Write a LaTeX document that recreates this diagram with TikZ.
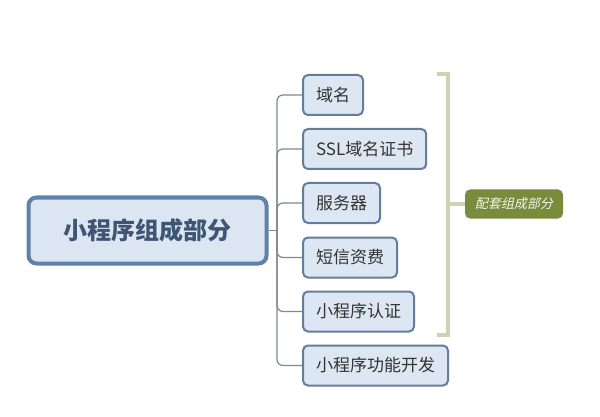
\documentclass[tikz,border=0pt]{standalone}
\usepackage{fontspec}
\setmainfont{Noto Sans CJK SC}
\newfontfamily\cjkslant[FakeSlant=0.2]{Noto Sans CJK SC}
\newfontfamily\cjkbold[FakeBold=1.5]{Noto Sans CJK SC}
\definecolor{rootborder}{HTML}{5F82AB}
\definecolor{rootfill}{HTML}{DCE6F2}
\definecolor{roottext}{HTML}{3E5573}
\definecolor{kidborder}{HTML}{647D9A}
\definecolor{kidfill}{HTML}{DDE7F3}
\definecolor{kidtext}{HTML}{333333}
\definecolor{linkgray}{HTML}{7E8893}
\definecolor{bracketgreen}{HTML}{CDD3B0}
\definecolor{tagfill}{HTML}{7A8B3D}
\definecolor{tagtext}{HTML}{F4F7E6}
\tikzset{
  rootbox/.style={draw=rootborder, line width=4pt, fill=rootfill, rounded corners=8pt,
    minimum width=238pt, minimum height=66pt, text=roottext, font=\fontsize{24}{28}\selectfont\bfseries, inner sep=0pt},
  kidbox/.style={draw=kidborder, line width=2pt, fill=kidfill, rounded corners=5pt,
    minimum height=40pt, inner xsep=13pt, inner ysep=0pt, anchor=west, text=kidtext,
    font=\fontsize{17}{20}\selectfont},
  tagbox/.style={fill=tagfill, rounded corners=5pt, minimum width=98pt, minimum height=29pt,
    inner sep=0pt, text=tagtext, font=\fontsize{13}{16}\selectfont\cjkslant},
  link/.style={draw=linkgray, line width=1.2pt, rounded corners=6pt},
  bracket/.style={draw=bracketgreen, line width=4pt}
}
\begin{document}
\begin{tikzpicture}[x=1pt,y=-1pt]
\useasboundingbox[fill=white] (0,0) rectangle (600,417);
\node[rootbox] (root) at (147.5,230.5) {小程序组成部分};
\node[kidbox] (k1) at (302,95) {域名};
\node[kidbox] (k2) at (302,149) {SSL域名证书};
\node[kidbox] (k3) at (302,203) {服务器};
\node[kidbox] (k4) at (302,257.5) {短信资费};
\node[kidbox] (k5) at (302,311.5) {小程序认证};
\node[kidbox] (k6) at (302,365.5) {小程序功能开发};
\coordinate (j) at (277,230.5);
\draw[link] (root.east) -- (j);
\foreach \k in {k1,k2,k3,k4,k5,k6}{
  \draw[link] (j) |- (\k.west);
}
\node[tagbox] (tag) at (514,204) {配套组成部分};
\coordinate (bt) at (437,74);
\coordinate (bb) at (437,335);
\coordinate (bm) at (448,204);
\draw[bracket] (bt) -- (448,74) -- (448,335) -- (bb);
\draw[bracket] (bm) -- (tag.west);
\end{tikzpicture}
\end{document}
